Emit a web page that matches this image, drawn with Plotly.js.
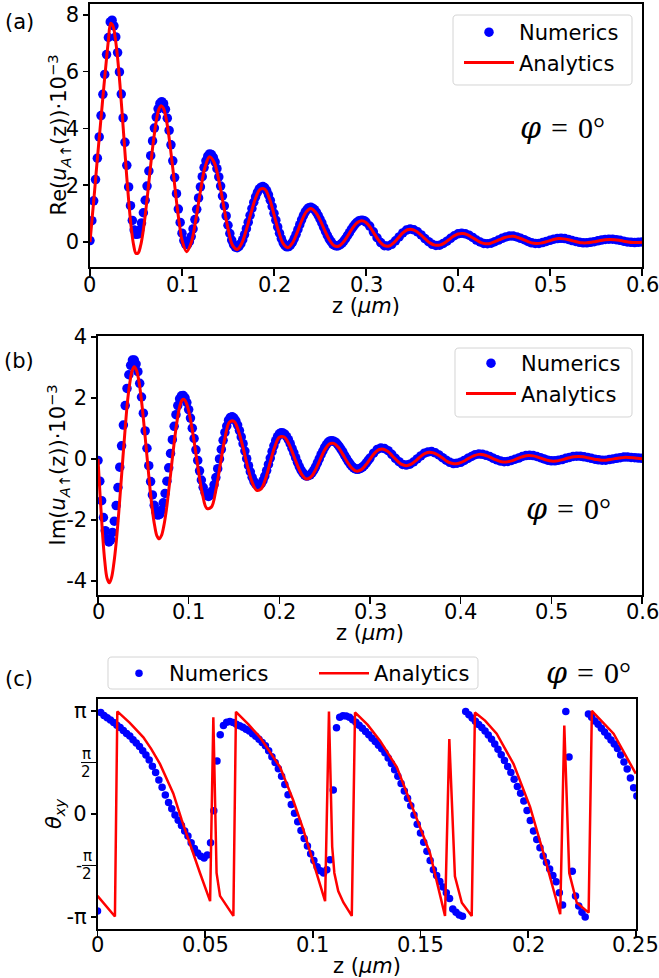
<!DOCTYPE html>
<html><head><meta charset="utf-8">
<script src="https://cdn.plot.ly/plotly-3.0.1.min.js"></script>
<style>html,body{margin:0;padding:0;background:#fff;}#chart{width:659px;height:978px;}</style>
</head><body><div id="chart"></div>
<script>
// ---------- data: panels (a) and (b), numerics (blue dots) ----------
const zNum = [
0,0.002,0.004,0.006,0.008,0.01,0.012,0.014,0.016,0.018,
0.02,0.022,0.024,0.026,0.028,0.03,0.032,0.034,0.036,0.038,
0.04,0.042,0.044,0.046,0.048,0.05,0.052,0.054,0.056,0.058,
0.06,0.062,0.064,0.066,0.068,0.07,0.072,0.074,0.076,0.078,
0.08,0.082,0.084,0.086,0.088,0.09,0.092,0.094,0.096,0.098,
0.1,0.102,0.104,0.106,0.108,0.11,0.112,0.114,0.116,0.118,
0.12,0.122,0.124,0.126,0.128,0.13,0.132,0.134,0.136,0.138,
0.14,0.142,0.144,0.146,0.148,0.15,0.152,0.154,0.156,0.158,
0.16,0.162,0.164,0.166,0.168,0.17,0.172,0.174,0.176,0.178,
0.18,0.182,0.184,0.186,0.188,0.19,0.192,0.194,0.196,0.198,
0.2,0.202,0.204,0.206,0.208,0.21,0.212,0.214,0.216,0.218,
0.22,0.222,0.224,0.226,0.228,0.23,0.232,0.234,0.236,0.238,
0.24,0.242,0.244,0.246,0.248,0.25,0.252,0.254,0.256,0.258,
0.26,0.262,0.264,0.266,0.268,0.27,0.272,0.274,0.276,0.278,
0.28,0.282,0.284,0.286,0.288,0.29,0.292,0.294,0.296,0.298,
0.3,
0.304,0.308,0.312,0.316,0.32,
0.324,0.328,0.332,0.336,0.34,
0.344,0.348,0.352,0.356,0.36,
0.364,0.368,0.372,0.376,0.38,
0.384,0.388,0.392,0.396,0.4,
0.404,0.408,0.412,0.416,0.42,
0.424,0.428,0.432,0.436,0.44,
0.444,0.448,0.452,0.456,0.46,
0.464,0.468,0.472,0.476,0.48,
0.484,0.488,0.492,0.496,0.5,
0.504,0.508,0.512,0.516,0.52,
0.524,0.528,0.532,0.536,0.54,
0.544,0.548,0.552,0.556,0.56,
0.564,0.568,0.572,0.576,0.58,
0.584,0.588,0.592,0.596,0.6];

const reNum = [
0.05,0.75,1.45,2.2,2.95,3.7,4.45,5.2,5.9,6.6,
7.2,7.75,7.81,7.61,7.22,6.67,5.99,5.21,4.37,3.51,
2.70,1.94,1.28,0.76,0.42,0.27,0.28,0.42,0.67,1.03,
1.47,1.97,2.50,3.04,3.56,4.01,4.40,4.69,4.88,4.94,
4.87,4.67,4.36,3.93,3.42,2.86,2.27,1.70,1.16,0.69,
0.31,0.05,-0.08,-0.09,0.01,0.19,0.46,0.79,1.15,1.55,
1.94,2.30,2.62,2.86,3.02,3.10,3.08,2.98,2.82,2.58,
2.29,1.97,1.62,1.27,0.92,0.59,0.30,0.07,-0.09,-0.18,
-0.20,-0.15,-0.06,0.08,0.26,0.47,0.70,0.94,1.18,1.40,
1.59,1.75,1.87,1.93,1.95,1.91,1.81,1.66,1.47,1.25,
1.01,0.77,0.53,0.31,0.12,-0.03,-0.13,-0.17,-0.16,-0.10,
-0.01,0.12,0.27,0.44,0.61,0.78,0.93,1.06,1.15,1.21,
1.22,1.19,1.14,1.05,0.94,0.81,0.67,0.52,0.37,0.23,
0.11,0.01,-0.08,-0.12,-0.14,-0.13,-0.09,-0.04,0.04,0.13,
0.23,0.33,0.44,0.53,0.62,0.69,0.74,0.76,0.77,0.75,
0.70,
0.56,0.36,0.15,-0.02,-0.13,
-0.14,-0.08,0.04,0.18,0.32,
0.42,0.46,0.43,0.36,0.25,
0.12,0.01,-0.08,-0.12,-0.11,
-0.05,0.03,0.13,0.22,0.29,
0.31,0.29,0.24,0.16,0.07,
0.00,-0.05,-0.06,-0.04,0.01,
0.07,0.13,0.18,0.21,0.21,
0.18,0.13,0.08,0.02,-0.03,
-0.05,-0.05,-0.02,0.02,0.06,
0.10,0.12,0.13,0.12,0.09,
0.05,0.02,-0.01,-0.03,-0.03,
-0.01,0.01,0.04,0.07,0.09,
0.10,0.10,0.08,0.06,0.03,
0.00,-0.01,-0.02,-0.01,0.00];

const imNum = [
-0.05,-0.73,-1.37,-1.92,-2.35,-2.62,-2.72,-2.65,-2.41,-2.04,
-1.53,-0.94,-0.27,0.43,1.11,1.75,2.31,2.76,3.07,3.24,
3.24,3.11,2.86,2.48,2.03,1.50,0.92,0.35,-0.22,-0.74,
-1.18,-1.52,-1.75,-1.84,-1.82,-1.68,-1.44,-1.13,-0.73,-0.29,
0.18,0.63,1.07,1.45,1.75,1.97,2.07,2.08,2.00,1.85,
1.62,1.34,1.01,0.67,0.30,-0.05,-0.39,-0.69,-0.93,-1.10,
-1.20,-1.23,-1.18,-1.05,-0.85,-0.61,-0.32,0.00,0.31,0.61,
0.87,1.08,1.27,1.36,1.38,1.34,1.25,1.11,0.93,0.72,
0.50,0.26,0.01,-0.22,-0.42,-0.60,-0.74,-0.83,-0.88,-0.87,
-0.81,-0.71,-0.56,-0.38,-0.18,0.03,0.24,0.43,0.60,0.73,
0.82,0.86,0.85,0.81,0.73,0.63,0.50,0.35,0.20,0.04,
-0.11,-0.25,-0.37,-0.46,-0.53,-0.56,-0.55,-0.52,-0.46,-0.37,
-0.26,-0.13,0.00,0.14,0.26,0.38,0.47,0.55,0.59,0.60,
0.58,0.55,0.49,0.41,0.32,0.23,0.12,0.02,-0.08,-0.16,
-0.24,-0.29,-0.33,-0.34,-0.33,-0.30,-0.26,-0.20,-0.13,-0.05,
0.03,
0.19,0.31,0.36,0.34,0.27,
0.15,0.02,-0.09,-0.18,-0.20,
-0.17,-0.10,0.00,0.10,0.19,
0.23,0.24,0.20,0.13,0.04,
-0.04,-0.11,-0.15,-0.14,-0.11,
-0.05,0.02,0.08,0.14,0.16,
0.15,0.12,0.08,0.02,-0.03,
-0.07,-0.09,-0.08,-0.05,-0.01,
0.03,0.08,0.11,0.12,0.11,
0.08,0.04,0.00,-0.04,-0.06,
-0.06,-0.04,-0.02,0.02,0.05,
0.08,0.09,0.09,0.07,0.05,
0.02,-0.01,-0.03,-0.04,-0.04,
-0.02,0.00,0.02,0.04,0.06,
0.06,0.05,0.04,0.03,0.02];

// ---------- data: panels (a) and (b), analytics (red line) ----------
const zAna = [
0,0.0025,0.005,0.0075,0.01,0.0125,0.015,0.0175,0.02,0.0225,
0.025,0.0275,0.03,0.0325,0.035,0.0375,0.04,0.0425,0.045,0.0475,
0.05,0.0525,0.055,0.0575,0.06,0.0625,0.065,0.0675,0.07,0.0725,
0.075,0.0775,0.08,0.0825,0.085,0.0875,0.09,0.0925,0.095,0.0975,
0.1,
0.105,0.11,0.115,0.12,0.125,0.13,0.135,0.14,0.145,0.15,
0.155,0.16,0.165,0.17,0.175,0.18,0.185,0.19,0.195,0.2,
0.205,0.21,0.215,0.22,0.225,0.23,0.235,0.24,0.245,0.25,
0.255,0.26,0.265,0.27,0.275,0.28,0.285,0.29,0.295,0.3,
0.305,0.31,0.315,0.32,0.325,0.33,0.335,0.34,0.345,0.35,
0.355,0.36,0.365,0.37,0.375,0.38,0.385,0.39,0.395,0.4,
0.405,0.41,0.415,0.42,0.425,0.43,0.435,0.44,0.445,0.45,
0.455,0.46,0.465,0.47,0.475,0.48,0.485,0.49,0.495,0.5,
0.505,0.51,0.515,0.52,0.525,0.53,0.535,0.54,0.545,0.55,
0.555,0.56,0.565,0.57,0.575,0.58,0.585,0.59,0.595,0.6];

const reAna = [
0,0.9,1.8,2.75,3.65,4.55,5.45,6.3,7.1,7.7,
7.60,7.17,6.48,5.57,4.50,3.38,2.27,1.27,0.45,-0.12,
-0.40,-0.38,-0.13,0.32,0.93,1.65,2.42,3.17,3.81,4.35,
4.69,4.80,4.70,4.39,3.91,3.28,2.59,1.87,1.16,0.56,
0.07,
-0.34,-0.03,0.78,1.78,2.63,3.00,2.80,2.18,1.32,0.48,
-0.12,-0.26,-0.04,0.44,1.02,1.55,1.86,1.86,1.53,0.97,
0.38,-0.06,-0.20,-0.04,0.32,0.74,1.06,1.18,1.06,0.78,
0.42,0.09,-0.12,-0.15,-0.02,0.21,0.47,0.67,0.75,0.69,
0.50,0.24,0.01,-0.13,-0.14,-0.03,0.14,0.32,0.43,0.44,
0.37,0.24,0.09,-0.04,-0.11,-0.11,-0.04,0.08,0.20,0.28,
0.30,0.26,0.17,0.07,-0.02,-0.06,-0.05,0.01,0.08,0.15,
0.19,0.20,0.16,0.10,0.03,-0.03,-0.05,-0.04,0.00,0.05,
0.10,0.12,0.11,0.08,0.04,0.00,-0.03,-0.03,-0.01,0.02,
0.05,0.08,0.09,0.08,0.06,0.03,0.00,-0.02,-0.02,-0.01];

const imAna = [
0,-1.30,-2.45,-3.36,-3.91,-4.06,-3.88,-3.42,-2.76,-1.91,
-0.94,0.05,1.01,1.87,2.47,2.88,3.02,2.90,2.57,2.03,
1.34,0.57,-0.23,-1.01,-1.68,-2.19,-2.52,-2.62,-2.51,-2.21,
-1.76,-1.16,-0.52,0.15,0.77,1.30,1.70,1.92,1.95,1.83,
1.58,
0.77,-0.23,-1.12,-1.62,-1.58,-1.02,-0.16,0.68,1.21,1.23,
0.91,0.37,-0.25,-0.76,-1.03,-0.98,-0.63,-0.10,0.40,0.71,
0.72,0.52,0.17,-0.21,-0.52,-0.66,-0.59,-0.35,-0.02,0.29,
0.49,0.51,0.38,0.15,-0.10,-0.30,-0.40,-0.36,-0.21,-0.01,
0.19,0.31,0.32,0.24,0.09,-0.06,-0.18,-0.22,-0.18,-0.07,
0.06,0.17,0.22,0.20,0.13,0.03,-0.08,-0.14,-0.16,-0.12,
-0.05,0.04,0.11,0.15,0.14,0.09,0.02,-0.04,-0.09,-0.10,
-0.07,-0.02,0.04,0.09,0.11,0.10,0.06,0.01,-0.04,-0.07,
-0.07,-0.04,0.00,0.04,0.07,0.08,0.07,0.04,0.01,-0.02,
-0.04,-0.04,-0.02,0.01,0.03,0.05,0.05,0.04,0.02,0.01];

// ---------- data: panel (c), theta_xy ----------
const zTheta = [
0,0.0015,0.003,0.0045,0.006,0.0075,0.009,0.0105,0.012,0.0135,
0.015,0.0165,0.018,0.0195,0.021,0.0225,0.024,0.0255,0.027,0.0285,
0.03,0.0315,0.033,0.0345,0.036,0.0375,0.039,0.0405,0.042,0.0435,
0.045,0.0465,0.048,0.0495,0.051,0.0525,0.054,0.0555,0.057,0.0585,
0.06,0.0615,0.063,0.0645,0.066,0.0675,0.069,0.0705,0.072,0.0735,
0.075,0.0765,0.078,0.0795,0.081,0.0825,0.084,0.0855,0.087,0.0885,
0.09,0.0915,0.093,0.0945,0.096,0.0975,0.099,0.1005,0.102,0.1035,
0.105,0.1065,0.108,0.1095,0.111,0.1125,0.114,0.1155,0.117,0.1185,
0.12,0.1215,0.123,0.1245,0.126,0.1275,0.129,0.1305,0.132,0.1335,
0.135,0.1365,0.138,0.1395,0.141,0.1425,0.144,0.1455,0.147,0.1485,
0.15,0.1515,0.153,0.1545,0.156,0.1575,0.159,0.1605,0.162,0.1635,
0.165,0.1665,0.168,0.1695,0.171,0.1725,0.174,0.1755,0.177,0.1785,
0.18,0.1815,0.183,0.1845,0.186,0.1875,0.189,0.1905,0.192,0.1935,
0.195,0.1965,0.198,0.1995,0.201,0.2025,0.204,0.2055,0.207,0.2085,
0.21,0.2115,0.213,0.2145,0.216,0.2175,0.219,0.2205,0.222,0.2235,
0.225,0.2265,0.228,0.2295,0.231,0.2325,0.234,0.2355,0.237,0.2385,
0.24,0.2415,0.243,0.2445,0.246,0.2475,0.249,0.2505];

const thetaNum = [
-2.96,3.10,3.01,2.94,2.87,2.79,2.71,2.64,2.55,2.46,
2.38,2.27,2.17,2.06,1.93,1.80,1.65,1.46,1.27,1.04,
0.82,0.58,0.35,0.16,-0.03,-0.19,-0.35,-0.52,-0.67,-0.88,
-1.05,-1.19,-1.29,-1.34,-1.25,-0.88,0.10,1.62,2.42,2.70,
2.80,2.82,2.79,2.74,2.69,2.65,2.59,2.53,2.45,2.37,
2.28,2.18,2.08,1.93,1.75,1.57,1.38,1.15,0.90,0.59,
0.29,0.02,-0.24,-0.50,-0.75,-0.98,-1.21,-1.42,-1.61,-1.73,
-1.80,-1.70,-1.40,0.73,2.63,2.95,3.00,2.99,2.95,2.88,
2.80,2.71,2.62,2.52,2.42,2.31,2.21,2.10,1.99,1.87,
1.71,1.54,1.35,1.15,0.93,0.70,0.48,0.25,-0.03,-0.31,
-0.58,-0.86,-1.14,-1.42,-1.70,-1.88,-2.06,-2.23,-2.40,-2.58,
-2.90,-3.00,-3.08,-3.12,3.13,3.03,2.93,2.83,2.73,2.64,
2.53,2.41,2.28,2.14,1.98,1.81,1.63,1.45,1.27,1.06,
0.84,0.63,0.40,0.11,-0.20,-0.52,-0.78,-1.03,-1.28,-1.48,
-1.68,-1.88,-2.07,-2.40,-2.78,3.13,1.74,-1.75,-2.50,-2.81,
-3.00,-3.14,3.05,2.95,2.84,2.74,2.62,2.50,2.38,2.26,
2.14,2.00,1.80,1.59,1.37,1.10,0.80,0.55];

const zThetaAna = [
0,0.0081,0.0092,0.015,0.0213,0.025,0.029,0.032,0.0352,0.0391,
0.0437,0.0476,0.0523,0.0538,0.0553,0.0569,0.0631,0.0643,0.07,0.0755,
0.0848,0.0909,0.0956,0.1002,0.1057,0.1075,0.109,0.11,0.1118,0.1142,
0.1181,0.1196,0.1255,0.1312,0.139,0.1467,0.1544,0.1614,0.1634,0.166,
0.1692,0.1738,0.1753,0.18,0.1854,0.1932,0.2009,0.2071,0.2149,0.2168,
0.2191,0.2226,0.2281,0.2296,0.2397,0.25];

const thetaAna = [
-2.5,-3.13,3.13,2.78,2.34,1.98,1.53,1.1,0.63,-0.18,
-1.09,-1.8,-2.66,2.95,-1.8,-2.5,-3.11,3.12,2.74,2.34,
1.43,0.42,-0.48,-1.49,-2.66,3.13,-1.0,-1.8,-2.35,-2.7,
-3.11,3.1,2.72,2.24,1.43,0.12,-1.19,-3.11,2.29,-1.9,
-2.71,-3.11,3.1,2.85,2.45,1.53,0.22,-1.19,-3.06,2.7,
-1.8,-2.71,-3.01,3.15,2.45,1.23];

// ---------- tick labels ----------
const xTickValsAB = [0,0.1,0.2,0.3,0.4,0.5,0.6];
const xTickTextAB = ['0','0.1','0.2','0.3','0.4','0.5','0.6'];
const yTickValsA = [0,2,4,6,8];
const yTickTextA = ['0','2','4','6','8'];
const yTickValsB = [-4,-2,0,2,4];
const yTickTextB = ['-4','-2','0','2','4'];
const xTickValsC = [0,0.05,0.1,0.15,0.2,0.25];
const xTickTextC = ['0','0.05','0.1','0.15','0.2','0.25'];
const yTickValsC = [-Math.PI,-Math.PI/2,0,Math.PI/2,Math.PI];
const yTickTextC = ['-π',' ','0',' ','π'];

// ---------- layout helpers ----------
const W = 659, H = 978;
const px = v => v / W;
const py = v => 1 - v / H;
const FONT = 'DejaVu Sans';
const BLUE = '#0000ff', RED = '#ff0000';
const TXT = {family:FONT, size:21, color:'#000'};

function xAxis(domain, range, vals, anchor) {
  return {domain, range, anchor, tickmode:'array', tickvals:vals, showticklabels:false,
    ticks:'outside', ticklen:7, tickwidth:1.5, tickcolor:'#000',
    showline:true, linewidth:1.6, linecolor:'#000', mirror:true,
    showgrid:false, zeroline:false, tickfont:TXT};
}
function yAxis(domain, range, vals, text, anchor) {
  return {domain, range, anchor, tickmode:'array', tickvals:vals, ticktext:text,
    ticks:'outside', ticklen:5, tickwidth:1.5, tickcolor:'#000',
    ticklabeloverflow:'allow',
    showline:true, linewidth:1.6, linecolor:'#000', mirror:true,
    showgrid:false, zeroline:false, tickfont:TXT};
}

const traces = [
  {x:zNum, y:reNum, type:'scatter', mode:'markers', name:'Numerics', xaxis:'x', yaxis:'y',
   marker:{color:BLUE, size:9.5}, legend:'legend'},
  {x:zAna, y:reAna, type:'scatter', mode:'lines', name:'Analytics', xaxis:'x', yaxis:'y',
   line:{color:RED, width:3, shape:'spline'}, legend:'legend'},
  {x:zNum, y:imNum, type:'scatter', mode:'markers', name:'Numerics', xaxis:'x2', yaxis:'y2',
   marker:{color:BLUE, size:9.5}, legend:'legend2'},
  {x:zAna, y:imAna, type:'scatter', mode:'lines', name:'Analytics', xaxis:'x2', yaxis:'y2',
   line:{color:RED, width:3, shape:'spline'}, legend:'legend2'},
  {x:zTheta, y:thetaNum, type:'scatter', mode:'markers', name:'Numerics', xaxis:'x3', yaxis:'y3',
   marker:{color:BLUE, size:7.5}, legend:'legend3'},
  {x:zThetaAna, y:thetaAna, type:'scatter', mode:'lines', name:'Analytics', xaxis:'x3', yaxis:'y3',
   line:{color:RED, width:2.5}, legend:'legend3'}
];

const legendBase = {font:TXT, bgcolor:'rgba(0,0,0,0)', borderwidth:0, itemwidth:50, tracegroupgap:0};

const phiText = '<span style="font-family:DejaVu Serif"><i>φ</i></span>\u2004=\u20040°';
const phiFont = {family:'Liberation Serif', size:30, color:'#000'};

const paperText = (text, x, y, extra) => Object.assign({text, x:px(x), y:py(y), xref:'paper', yref:'paper',
  showarrow:false, xanchor:'center', yanchor:'middle', font:TXT}, extra || {});

const annotations = [
  paperText('(a)', 19, 22),
  paperText('(b)', 19, 361),
  paperText('(c)', 19, 679),
  paperText(phiText, 562, 127, {font:phiFont}),
  paperText(phiText, 568, 508, {font:phiFont}),
  paperText(phiText, 588, 672, {font:phiFont}),
  // axis titles
  paperText('z (<i>μm</i>)', 366, 306),
  paperText('z (<i>μm</i>)', 370, 633),
  paperText('z (<i>μm</i>)', 367, 966),
  paperText('Re(<i>u</i><sub><i>A</i>↑</sub>(z))·10<sup>−3</sup>', 58, 135.5, {textangle:-90}),
  paperText('Im(<i>u</i><sub><i>A</i>↑</sub>(z))·10<sup>−3</sup>', 57, 465.5, {textangle:-90}),
  paperText('<i>θ</i><sub><i>xy</i></sub>', 55, 814, {textangle:-90})
];
// x tick labels, placed on each x axis scale
[['x', xTickValsAB, xTickTextAB, 285], ['x2', xTickValsAB, xTickTextAB, 612], ['x3', xTickValsC, xTickTextC, 945]]
  .forEach(([ax, vals, texts, yy]) => vals.forEach((v, i) => annotations.push({
    text:texts[i], x:v, xref:ax, y:py(yy), yref:'paper', showarrow:false,
    xanchor:'center', yanchor:'middle', font:TXT, borderpad:0})));
// stacked fractions for the ±π/2 tick labels
const fracFont = {family:FONT, size:15, color:'#000'};
[[Math.PI/2, 86, null], [-Math.PI/2, 87, 79]].forEach(([yv, xc, xm]) => {
  annotations.push({text:'π', x:px(xc), y:yv, xref:'paper', yref:'y3', yshift:9, showarrow:false, font:fracFont, xanchor:'center', yanchor:'middle'});
  annotations.push({text:'2', x:px(xc), y:yv, xref:'paper', yref:'y3', yshift:-9, showarrow:false, font:fracFont, xanchor:'center', yanchor:'middle'});
  if (xm !== null) annotations.push({text:'-', x:px(xm), y:yv, xref:'paper', yref:'y3', showarrow:false, font:{family:FONT,size:17,color:'#000'}, xanchor:'center', yanchor:'middle'});
});

// rounded legend frames (paper coordinates)
function roundBox(x0, y0, x1, y1, r) {
  const X = v => px(v).toFixed(5), Y = v => py(v).toFixed(5);
  return `M ${X(x0+r)},${Y(y0)} L ${X(x1-r)},${Y(y0)} Q ${X(x1)},${Y(y0)} ${X(x1)},${Y(y0+r)} ` +
    `L ${X(x1)},${Y(y1-r)} Q ${X(x1)},${Y(y1)} ${X(x1-r)},${Y(y1)} L ${X(x0+r)},${Y(y1)} ` +
    `Q ${X(x0)},${Y(y1)} ${X(x0)},${Y(y1-r)} L ${X(x0)},${Y(y0+r)} Q ${X(x0)},${Y(y0)} ${X(x0+r)},${Y(y0)} Z`;
}
const boxStyle = {type:'path', xref:'paper', yref:'paper', layer:'above',
  fillcolor:'rgba(255,255,255,0.85)', line:{color:'#d4d4d4', width:1}};
const shapes = [
  Object.assign({path:roundBox(453, 15, 632, 85, 4)}, boxStyle),
  Object.assign({path:roundBox(455, 348, 632, 417, 4)}, boxStyle),
  Object.assign({path:roundBox(108, 657, 478, 689, 4)}, boxStyle),
  {type:'line', xref:'paper', yref:'y3', x0:px(81), x1:px(91), y0:Math.PI/2, y1:Math.PI/2, line:{color:'#000', width:1}},
  {type:'line', xref:'paper', yref:'y3', x0:px(82), x1:px(92), y0:-Math.PI/2, y1:-Math.PI/2, line:{color:'#000', width:1}}
];

const layout = {
  width:W, height:H, margin:{l:0,r:0,t:0,b:0}, paper_bgcolor:'#fff', plot_bgcolor:'#fff',
  font:TXT, showlegend:true, hovermode:false,
  xaxis: xAxis([px(90), px(642)], [0,0.6], xTickValsAB, 'y'),
  yaxis: yAxis([py(267), py(4)], [-0.88,8.38], yTickValsA, yTickTextA, 'x'),
  xaxis2: xAxis([px(98), px(642)], [0,0.6], xTickValsAB, 'y2'),
  yaxis2: yAxis([py(595), py(336)], [-4.46,4.03], yTickValsB, yTickTextB, 'x2'),
  xaxis3: xAxis([px(97.5), px(636)], [0,0.2501], xTickValsC, 'y3'),
  yaxis3: yAxis([py(929), py(699)], [-3.51,3.51], yTickValsC, yTickTextC, 'x3'),
  legend: Object.assign({}, legendBase, {x:px(459), xanchor:'left', y:py(12), yanchor:'top'}),
  legend2: Object.assign({}, legendBase, {x:px(461), xanchor:'left', y:py(343), yanchor:'top'}),
  legend3: Object.assign({}, legendBase, {orientation:'h', x:px(109), xanchor:'left', y:py(653), yanchor:'top',
    entrywidth:140, entrywidthmode:'pixels'}),
  annotations, shapes
};

Plotly.newPlot('chart', traces, layout, {staticPlot:true, displayModeBar:false});
</script>
</body></html>
